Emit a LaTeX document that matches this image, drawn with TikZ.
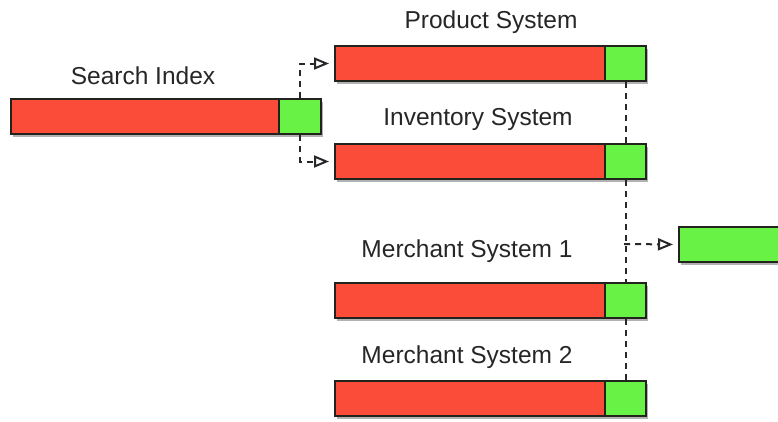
\documentclass[tikz,border=0pt]{standalone}
\usepackage{fontspec}
\setmainfont{Liberation Sans}
\usetikzlibrary{arrows.meta,shadows}
\definecolor{barred}{RGB}{250,76,56}
\definecolor{bargreen}{RGB}{104,242,70}
\definecolor{edge}{RGB}{35,35,30}
\definecolor{link}{RGB}{40,40,40}
\tikzset{
  x=1bp, y=-1bp,
  seg/.style={draw=edge, line width=2bp, inner sep=0pt, minimum height=35bp,
    drop shadow={shadow xshift=1.5bp, shadow yshift=-2.5bp, opacity=0.3, fill=black}},
  redseg/.style={seg, fill=barred, minimum width=#1},
  greenseg/.style={seg, fill=bargreen, minimum width=#1},
  label/.style={font=\fontsize{24.5bp}{28bp}\selectfont, text=black!85, inner sep=0pt},
  conn/.style={draw=link, line width=2bp, dash pattern=on 6bp off 5bp},
  flow/.style={conn, -{Triangle[open, length=15bp, width=12bp, line width=2bp, fill=white]}, shorten >=5bp},
}
\begin{document}
\begin{tikzpicture}
\useasboundingbox (0,0) rectangle (778,421);
\clip (0,0) rectangle (778,421);

\coordinate (split) at (624,244);

% search index
\node[redseg=268bp, anchor=west] (sr) at (10,116.5) {};
\node[greenseg=42bp, anchor=west] (sg) at (278,116.5) {};
\node[label] (sl) at (143,76) {Search Index};

% product system
\node[redseg=270bp, anchor=west] (pr) at (334,63.5) {};
\node[greenseg=41bp, anchor=west] (pg) at (604,63.5) {};
\node[label] (pl) at (491,22) {Product System};

% inventory system
\node[redseg=270bp, anchor=west] (ir) at (334,161.5) {};
\node[greenseg=41bp, anchor=west] (ig) at (604,161.5) {};
\node[label] (il) at (478,119) {Inventory System};

% merchant system 1
\node[redseg=270bp, anchor=west] (m1r) at (334,300.5) {};
\node[greenseg=41bp, anchor=west] (m1g) at (604,300.5) {};
\node[label] (m1l) at (467,251) {Merchant System 1};

% merchant system 2
\node[redseg=270bp, anchor=west] (m2r) at (334,398.5) {};
\node[greenseg=41bp, anchor=west] (m2g) at (604,398.5) {};
\node[label] (m2l) at (467,357) {Merchant System 2};

% outgoing segment
\node[greenseg=120bp, anchor=west] (out) at (678,244.5) {};

% search index feeds product and inventory
\draw[flow] (sg.north) |- (pr.west);
\draw[flow] (sg.south) |- (ir.west);

% shared spine through the system segments
\draw[conn] (pg.south) -- (ig.north);
\draw[conn] (ig.south) -- (m1g.north);
\draw[conn] (m1g.south) -- (m2g.north);
\draw[flow] (split) -- (out.west);
\end{tikzpicture}
\end{document}
